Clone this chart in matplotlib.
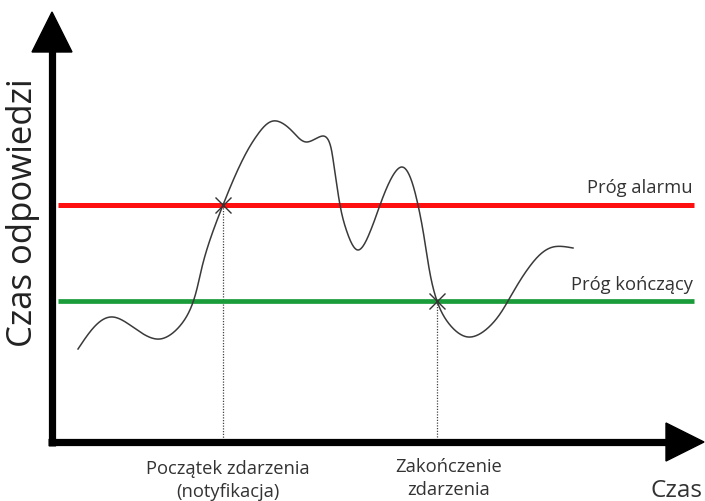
import numpy as np
import matplotlib
matplotlib.use("Agg")
import matplotlib.pyplot as plt
from matplotlib.patches import Polygon

plt.rcParams['font.family'] = ['Open Sans', 'DejaVu Sans']

# Response-time trace (time, response) sampled along the curve
time_pts = [26, 61, 108, 127, 150, 171, 191, 206, 221, 241, 255, 271,
            281, 288, 295, 306, 318, 328, 350, 366, 376, 385, 398, 416, 438,
            456, 478, 501, 521]
resp_pts = [93, 125, 103, 115, 175, 237, 283, 308, 321, 310, 300, 306,
            283, 237, 210, 192, 210, 237, 275, 237, 180, 141, 117, 105, 116,
            141, 176, 195, 194]

alarm_level = 237      # próg alarmu
end_level = 141        # próg kończący

axis_label_y = "Czas odpowiedzi"
axis_label_x = "Czas"
alarm_label = "Próg alarmu"
end_label = "Próg kończący"
start_label = "Początek zdarzenia\n(notyfikacja)"
stop_label = "Zakończenie\nzdarzenia"


def natural_spline(s, v, s_new):
    """Natural cubic spline through (s, v), evaluated at s_new."""
    s = np.asarray(s, float)
    v = np.asarray(v, float)
    n = len(s)
    h = np.diff(s)
    A = np.zeros((n, n))
    b = np.zeros(n)
    A[0, 0] = A[-1, -1] = 1.0
    for i in range(1, n - 1):
        A[i, i - 1] = h[i - 1]
        A[i, i] = 2 * (h[i - 1] + h[i])
        A[i, i + 1] = h[i]
        b[i] = 6 * ((v[i + 1] - v[i]) / h[i] - (v[i] - v[i - 1]) / h[i - 1])
    M = np.linalg.solve(A, b)
    k = np.clip(np.searchsorted(s, s_new) - 1, 0, n - 2)
    hk = h[k]
    a = s[k + 1] - s_new
    c = s_new - s[k]
    return (M[k] * a ** 3 / (6 * hk) + M[k + 1] * c ** 3 / (6 * hk)
            + (v[k] / hk - M[k] * hk / 6) * a
            + (v[k + 1] / hk - M[k + 1] * hk / 6) * c)


def smooth_path(xs, ys, n=1500):
    xs = np.asarray(xs, float)
    ys = np.asarray(ys, float)
    s = np.concatenate([[0], np.cumsum(np.hypot(np.diff(xs), np.diff(ys)))])
    u = np.linspace(0, s[-1], n)
    return natural_spline(s, xs, u), natural_spline(s, ys, u)


def crossing(xs, ys, level, rising, start=0):
    for i in range(start, len(xs) - 1):
        a, b = ys[i] - level, ys[i + 1] - level
        if (rising and a < 0 <= b) or (not rising and a > 0 >= b):
            f = a / (a - b)
            return xs[i] + f * (xs[i + 1] - xs[i]), i
    return None, None


cx, cy = smooth_path(time_pts, resp_pts)

# event start: first upward crossing of the alarm threshold
t_start, _ = crossing(cx, cy, alarm_level, rising=True)
# event end: first downward crossing of the end threshold after the last alarm drop
last_alarm = max(i for i in range(len(cy) - 1)
                 if cy[i] >= alarm_level > cy[i + 1])
t_stop, _ = crossing(cx, cy, end_level, rising=False, start=last_alarm)

fig = plt.figure(figsize=(7.05, 5.02), dpi=100)
ax = fig.add_axes([0, 0, 1, 1])
ax.set_xlim(-52, 653)
ax.set_ylim(-59, 443)
ax.axis('off')

# axes with arrowheads
ax.plot([0, 0], [-4, 395], color='black', lw=5.2, solid_capstyle='butt', zorder=5)
ax.plot([-4, 616], [0, 0], color='black', lw=5.2, solid_capstyle='butt', zorder=5)
ax.add_patch(Polygon([[-20, 390], [20, 390], [0, 430]], closed=True,
                     color='black', zorder=6))
ax.add_patch(Polygon([[614, 19], [614, -19], [652, 0]], closed=True,
                     color='black', zorder=6))

# thresholds
ax.plot([6, 642], [alarm_level, alarm_level], color='#ff1010', lw=3.6,
        solid_capstyle='butt', zorder=2)
ax.plot([6, 642], [end_level, end_level], color='#1a9c3a', lw=3.4,
        solid_capstyle='butt', zorder=2)

# response-time curve
ax.plot(cx, cy, color='#3a3a3a', lw=1.1, zorder=3)

# event markers and guides
for t, lvl in [(t_start, alarm_level), (t_stop, end_level)]:
    ax.plot([t, t], [lvl, 3], color='#444444', lw=0.9, ls=(0, (1, 1.2)), zorder=1)
    ax.plot([t], [lvl], marker='x', ms=11, mew=1.0, color='#333333', zorder=4)

txt = dict(color='#333333', fontsize=13.2)
ax.text(641, alarm_level + 9, alarm_label, ha='right', va='bottom', **txt)
ax.text(641, end_level + 8, end_label, ha='right', va='bottom', **txt)
ax.text(t_start + 5, -17, start_label, ha='center', va='top',
        linespacing=1.35, **txt)
ax.text(t_stop + 12, -15, stop_label, ha='center', va='top',
        linespacing=1.35, **txt)
ax.text(598, -48, axis_label_x, ha='left', va='center', color='#333333',
        fontsize=17.5)
ax.text(-29, 230, axis_label_y, ha='center', va='center', rotation=90,
        color='#222222', fontsize=25)

fig.savefig('out.png', dpi=100)
